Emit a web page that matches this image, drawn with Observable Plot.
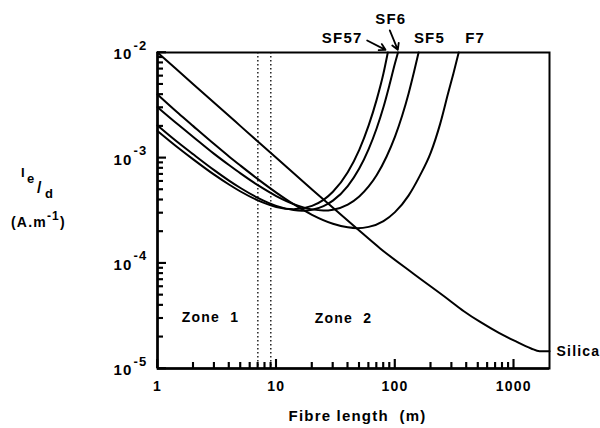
<!DOCTYPE html>
<html><head><meta charset="utf-8">
<script src="https://cdn.jsdelivr.net/npm/d3@7"></script>
<script src="https://cdn.jsdelivr.net/npm/@observablehq/plot@0.6"></script>
<style>
body{margin:0;background:#fff;}
#chart{position:relative;width:600px;height:428px;}
#chart svg{display:block;}
#chart svg text{letter-spacing:1.2px;}
#ticks{position:absolute;left:0;top:0;pointer-events:none;}
</style></head><body><div id="chart"></div>
<script>
// Fibre lengths (m) and I_e/d values (A.m^-1)
const silicaL = [1, 2, 5, 10, 20, 48, 75, 144, 276, 380, 526, 750, 1000, 1400, 1650, 2000];
const silicaV = [1.0e-2, 5.0e-3, 2.0e-3, 1.0e-3, 5.0e-4, 2.12e-4, 1.38e-4, 7.9e-5, 4.6e-5, 3.5e-5, 2.75e-5, 2.18e-5, 1.85e-5, 1.55e-5, 1.46e-5, 1.46e-5];

const sf57L = [1, 1.5, 2, 3, 4, 5, 7, 10, 14, 20, 25, 30, 40, 50, 60, 70, 80, 87];
const sf57V = [1.80e-3, 1.24e-3, 9.67e-4, 6.92e-4, 5.58e-4, 4.79e-4, 3.95e-4, 3.42e-4, 3.25e-4, 3.50e-4, 3.99e-4, 4.76e-4, 7.30e-4, 1.19e-3, 2.03e-3, 3.55e-3, 6.35e-3, 1.0e-2];

const sf6L = [1, 1.5, 2, 3, 4, 5, 7, 10, 14, 16.5, 20, 25, 30, 40, 50, 60, 70, 80, 90, 100, 106];
const sf6V = [2.03e-3, 1.39e-3, 1.08e-3, 7.64e-4, 6.08e-4, 5.17e-4, 4.17e-4, 3.50e-4, 3.19e-4, 3.15e-4, 3.21e-4, 3.48e-4, 3.92e-4, 5.39e-4, 7.91e-4, 1.21e-3, 1.90e-3, 3.04e-3, 4.96e-3, 7.9e-3, 1.0e-2];

const sf5L = [1, 1.5, 2, 3, 4, 5, 7, 10, 14, 20, 25, 30, 40, 50, 60, 70, 85, 100, 115, 130, 145, 158];
const sf5V = [3.03e-3, 2.06e-3, 1.58e-3, 1.09e-3, 8.54e-4, 7.11e-4, 5.50e-4, 4.34e-4, 3.64e-4, 3.24e-4, 3.16e-4, 3.22e-4, 3.60e-4, 4.30e-4, 5.35e-4, 6.84e-4, 1.03e-3, 1.59e-3, 2.52e-3, 4.06e-3, 6.63e-3, 1.0e-2];

const f7L = [1, 1.5, 2, 3, 4, 5, 7, 10, 14, 20, 30, 40, 48, 60, 80, 100, 130, 160, 200, 240, 280, 310, 344];
const f7V = [4.0e-3, 2.65e-3, 2.0e-3, 1.35e-3, 1.03e-3, 8.43e-4, 6.28e-4, 4.68e-4, 3.63e-4, 2.88e-4, 2.37e-4, 2.19e-4, 2.15e-4, 2.21e-4, 2.51e-4, 3.05e-4, 4.38e-4, 6.6e-4, 1.12e-3, 2.1e-3, 4.1e-3, 6.3e-3, 1.0e-2];

// Axis ticks
const xMajor = [1, 10, 100, 1000];
const xMajorLabels = ["1", "10", "100", "1000"];
const xMinor = [2,3,4,5,6,7,8,9, 20,30,40,50,60,70,80,90, 200,300,400,500,600,700,800,900];
const yMajor = [1e-5, 1e-4, 1e-3, 1e-2];
const yExponents = ["-5", "-4", "-3", "-2"];
const yMinor = [2e-5,3e-5,4e-5,5e-5,6e-5,7e-5,8e-5,9e-5, 2e-4,3e-4,4e-4,5e-4,6e-4,7e-4,8e-4,9e-4, 2e-3,3e-3,4e-3,5e-3,6e-3,7e-3,8e-3,9e-3];

// Zone boundaries (dotted) and annotation texts
const zoneBounds = [7, 9];
const zoneNames = ["Zone\u00a0 1", "Zone\u00a0 2"];
const zoneX = [2.79, 36.8];
const zoneY = [3.05e-5, 3.0e-5];

const curveNames = ["SF57", "SF6", "SF5", "F7"];
const curveLabelX = [35.9, 92.2, 195, 473];
const curveLabelY = [0.0138, 0.0209, 0.0138, 0.0138];

const arrowNames = ["SF57", "SF6"];
const arrowX1 = [58.3, 90.4];
const arrowY1 = [0.0130, 0.0162];
const arrowX2 = [83.2, 105.6];
const arrowY2 = [0.0106, 0.0106];

const rows = [
  ...silicaL.map((L, i) => ({name: "Silica", L, v: silicaV[i]})),
  ...sf57L.map((L, i) => ({name: "SF57", L, v: sf57V[i]})),
  ...sf6L.map((L, i) => ({name: "SF6", L, v: sf6V[i]})),
  ...sf5L.map((L, i) => ({name: "SF5", L, v: sf5V[i]})),
  ...f7L.map((L, i) => ({name: "F7", L, v: f7V[i]}))
];
const zones = zoneNames.map((t, i) => ({t, x: zoneX[i], y: zoneY[i]}));
const curveLabels = curveNames.map((t, i) => ({t, x: curveLabelX[i], y: curveLabelY[i]}));
const arrows = arrowNames.map((t, i) => ({t, x1: arrowX1[i], y1: arrowY1[i], x2: arrowX2[i], y2: arrowY2[i]}));
const silicaEnd = [{x: silicaL[silicaL.length - 1], y: silicaV[silicaV.length - 1], t: "Silica"}];

const FONT = "'Liberation Sans', Arial, Helvetica, sans-serif";
const noLabel = () => "";

const plot = Plot.plot({
  width: 600,
  height: 428,
  marginLeft: 157,
  marginRight: 51,
  marginTop: 52,
  marginBottom: 60,
  x: {type: "log", domain: [1, 2000], axis: null},
  y: {type: "log", domain: [1e-5, 1e-2], axis: null},
  style: {fontFamily: FONT, fontSize: "14px", color: "#000", background: "#fff", overflow: "visible"},
  marks: [
    Plot.ruleX(zoneBounds, {stroke: "#000", strokeWidth: 1.3, strokeDasharray: "1.5,2.5"}),
    Plot.line(rows, {x: "L", y: "v", z: "name", curve: "monotone-x", stroke: "#000", strokeWidth: 2}),
    Plot.text(xMajor, {x: d => d, text: (d, i) => xMajorLabels[i], frameAnchor: "bottom", dy: 22, fontSize: 14, fontWeight: "bold", fill: "#000"}),
    Plot.text(yMajor, {y: d => d, text: () => "10", frameAnchor: "left", dx: -25, dy: 2, textAnchor: "end", fontSize: 15, fontWeight: "bold", fill: "#000"}),
    Plot.text(yMajor, {y: d => d, text: (d, i) => yExponents[i], frameAnchor: "left", dx: -10, dy: -7, textAnchor: "end", fontSize: 13, fontWeight: "bold", fill: "#000"}),
    Plot.text(["Fibre length\u00a0 (m)"], {frameAnchor: "bottom", dx: 4, dy: 52, fontSize: 15, fontWeight: "bold", fill: "#000"}),
    Plot.text(zones, {x: "x", y: "y", text: "t", fontSize: 14, fontWeight: "bold", fill: "#000"}),
    Plot.text(curveLabels, {x: "x", y: "y", text: "t", fontSize: 15, fontWeight: "bold", fill: "#000"}),
    Plot.arrow(arrows, {x1: "x1", y1: "y1", x2: "x2", y2: "y2", stroke: "#000", strokeWidth: 1.8, headLength: 7}),
    Plot.text(silicaEnd, {x: "x", y: "y", text: "t", dx: 7, textAnchor: "start", fontSize: 14, fontWeight: "bold", fill: "#000"}),
    Plot.frame({stroke: "#000", strokeWidth: 2}),
    Plot.ruleX([1], {stroke: "#000", strokeWidth: 2.5}),
    Plot.ruleY([1e-5], {stroke: "#000", strokeWidth: 2.5}),
    Plot.axisX({ticks: xMinor, anchor: "bottom", tickSize: -6, tickFormat: noLabel, stroke: "#000", strokeWidth: 1.6}),
    Plot.axisX({ticks: xMajor, anchor: "bottom", tickSize: -9, tickFormat: noLabel, stroke: "#000", strokeWidth: 1.6}),
    Plot.axisY({ticks: yMinor, anchor: "left", tickSize: -6, tickFormat: noLabel, stroke: "#000", strokeWidth: 1.6}),
    Plot.axisY({ticks: yMajor, anchor: "left", tickSize: -9, tickFormat: noLabel, stroke: "#000", strokeWidth: 1.6})
  ]
});

const chart = document.getElementById("chart");
chart.appendChild(plot);

const svg = d3.select(plot);

// Y-axis title: I e/d and (A.m^-1)
const g = svg.append("g").attr("font-family", FONT).attr("font-weight", "bold").attr("fill", "#000").attr("text-anchor", "start");
g.append("text").attr("x", 21).attr("y", 177).attr("font-size", 13).text("I");
g.append("text").attr("x", 27).attr("y", 183).attr("font-size", 13).text("e");
g.append("text").attr("x", 37).attr("y", 193).attr("font-size", 16).text("/");
g.append("text").attr("x", 45).attr("y", 198).attr("font-size", 13).text("d");
const unit = g.append("text").attr("x", 11).attr("y", 227).attr("font-size", 14);
unit.append("tspan").text("(A.m");
unit.append("tspan").attr("dy", -7).attr("font-size", 12).text("-1");
unit.append("tspan").attr("dy", 7).text(")");

// Inward ticks again on an overlay, placed through the plot's own scales
const xs = plot.scale("x");
const ys = plot.scale("y");
const x0 = xs.apply(1);
const y0 = ys.apply(1e-5);
const ov = d3.select(chart).append("svg").attr("id", "ticks").attr("width", 600).attr("height", 428);
const tg = ov.append("g").attr("stroke", "#000").attr("stroke-width", 1.6);
const addX = (vals, len) => vals.forEach(v => {
  const px = xs.apply(v);
  tg.append("line").attr("x1", px).attr("x2", px).attr("y1", y0).attr("y2", y0 - len);
});
const addY = (vals, len) => vals.forEach(v => {
  const py = ys.apply(v);
  tg.append("line").attr("x1", x0).attr("x2", x0 + len).attr("y1", py).attr("y2", py);
});
addX(xMinor, 6);
addX(xMajor, 9);
addY(yMinor, 6);
addY(yMajor, 9);
</script>
</body></html>
